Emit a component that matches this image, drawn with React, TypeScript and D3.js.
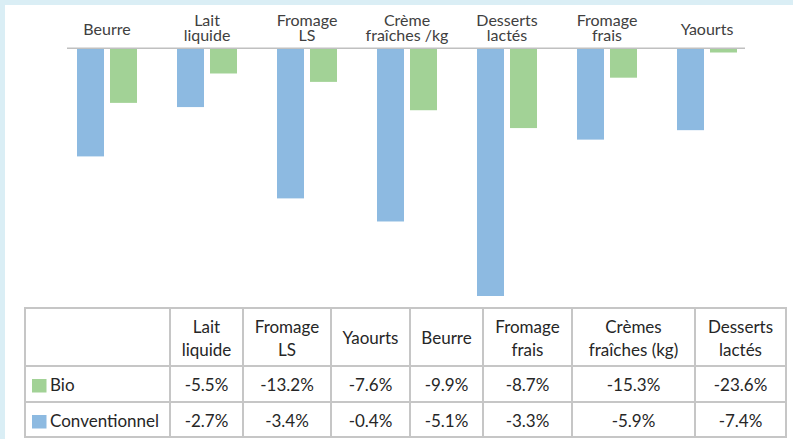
import React from 'react';
import * as d3 from 'd3';

// chart data (as drawn in the picture)
const categories = ['Beurre', 'Lait\nliquide', 'Fromage\nLS', 'Crème\nfraîches /kg', 'Desserts\nlactés', 'Fromage\nfrais', 'Yaourts'];
const seriesBlue = [-10.3, -5.6, -14.3, -16.5, -23.6, -8.7, -7.8];
const seriesGreen = [-5.2, -2.4, -3.2, -5.9, -7.6, -2.8, -0.4];

// table data
const tableHeaders = ['Lait\nliquide', 'Fromage\nLS', 'Yaourts', 'Beurre', 'Fromage\nfrais', 'Crèmes\nfraîches (kg)', 'Desserts\nlactés'];
const bioValues = [-5.5, -13.2, -7.6, -9.9, -8.7, -15.3, -23.6];
const convValues = [-2.7, -3.4, -0.4, -5.1, -3.3, -5.9, -7.4];
const rowLabels = ['Bio', 'Conventionnel'];

const W = 793;
const H = 439;
const BLUE = '#8dbae1';
const GREEN = '#a2d296';
const FONT = 'Lato, "Open Sans", sans-serif';

// table layout
const colEdges = [25, 170, 243, 331, 410, 483, 572, 695, 786];
const rowEdges = [308, 366, 402, 437];

// plain hyphen like the source, not the unicode minus d3 uses
const fmt = (v: number) => d3.format('.1f')(v).replace('\u2212', '-') + '%';

export default function App() {
  const x = d3.scaleBand<string>().domain(categories).range([57, 757]).padding(0);
  const xs = d3.scaleBand<string>().domain(['blue', 'green']).range([20, 80]).paddingInner(6 / 33);
  const y = d3.scaleLinear().domain([-23.6, 0]).range([296, 48.3]);

  const bars = [
    { key: 'blue', values: seriesBlue, color: BLUE },
    { key: 'green', values: seriesGreen, color: GREEN },
  ];

  const axisX0 = (x(categories[0]) ?? 0) + 10;
  const axisX1 = (x(categories[categories.length - 1]) ?? 0) + x.step() - 12;

  const rows = [bioValues, convValues];
  const rowColors = [GREEN, BLUE];

  return (
    <div style={{ position: 'absolute', left: 0, top: 0 }}>
      <svg width={W} height={H} style={{ display: 'block' }}>
        <rect x={0} y={0} width={W} height={H} fill="#daeef5" />
        <rect x={5} y={5} width={W - 5} height={H - 5} fill="#ffffff" />

        {/* category labels */}
        {categories.map((c) => {
          const lines = c.split('\n');
          const cx = (x(c) ?? 0) + x.bandwidth() / 2;
          const base = lines.length === 1 ? 34.5 : 26;
          return (
            <text key={c} x={cx} textAnchor="middle" fontFamily={FONT} fontSize={16} fill="#404040">
              {lines.map((l, i) => (
                <tspan key={i} x={cx} y={base + i * 14.8}>{l}</tspan>
              ))}
            </text>
          );
        })}

        {/* bars */}
        {bars.map((s) =>
          s.values.map((v, i) => (
            <rect
              key={s.key + i}
              x={(x(categories[i]) ?? 0) + (xs(s.key) ?? 0)}
              y={y(0)}
              width={xs.bandwidth()}
              height={y(v) - y(0)}
              fill={s.color}
            />
          ))
        )}

        <line x1={axisX0} x2={axisX1} y1={y(0)} y2={y(0)} stroke="#c0c0c0" strokeWidth={1.5} />

        {/* data table */}
        <g fontFamily={FONT} fontSize={17} fill="#262626">
          {tableHeaders.map((h, i) => {
            const cx = (colEdges[i + 1] + colEdges[i + 2]) / 2;
            const lines = h.split('\n');
            const base = lines.length === 1 ? 344 : 333.3;
            return (
              <text key={h} textAnchor="middle">
                {lines.map((l, j) => (
                  <tspan key={j} x={cx} y={base + j * 22.4}>{l}</tspan>
                ))}
              </text>
            );
          })}
          {rows.map((vals, r) => (
            <g key={r}>
              <rect x={32} y={rowEdges[r + 1] + 13} width={14.5} height={13.5} fill={rowColors[r]} />
              <text x={50} y={rowEdges[r + 1] + 25}>{rowLabels[r]}</text>
              {vals.map((v, i) => (
                <text key={i} x={(colEdges[i + 1] + colEdges[i + 2]) / 2} y={rowEdges[r + 1] + 25} textAnchor="middle">
                  {fmt(v)}
                </text>
              ))}
            </g>
          ))}
        </g>
        <g stroke="#c6c6c6" strokeWidth={2}>
          {colEdges.map((cx, i) => (
            <line key={'c' + i} x1={cx} x2={cx} y1={rowEdges[0]} y2={rowEdges[rowEdges.length - 1]} />
          ))}
          {rowEdges.map((ry, i) => (
            <line key={'r' + i} x1={colEdges[0] - 1} x2={colEdges[colEdges.length - 1] + 1} y1={ry} y2={ry} />
          ))}
        </g>
      </svg>
    </div>
  );
}
